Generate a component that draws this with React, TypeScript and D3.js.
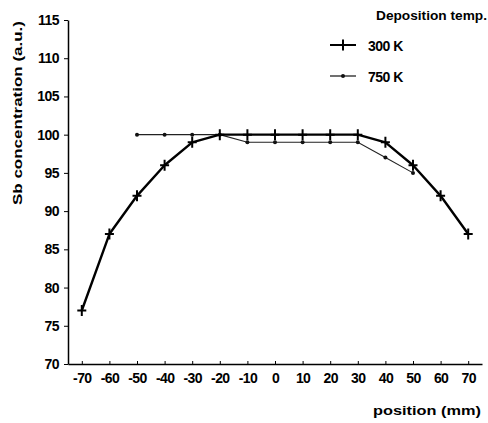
import React, { useEffect, useRef } from "react";
import * as d3 from "d3";

const positions300 = [-70, -60, -50, -40, -30, -20, -10, 0, 10, 20, 30, 40, 50, 60, 70];
const values300 = [77, 87, 92, 96, 99, 100, 100, 100, 100, 100, 100, 99, 96, 92, 87];
const positions750 = [-50, -40, -30, -20, -10, 0, 10, 20, 30, 40, 50];
const values750 = [100, 100, 100, 100, 99, 99, 99, 99, 99, 97, 95];
const xTicks = [-70, -60, -50, -40, -30, -20, -10, 0, 10, 20, 30, 40, 50, 60, 70];
const yTicks = [70, 75, 80, 85, 90, 95, 100, 105, 110, 115];

const FONT = "'Liberation Sans', Arial, sans-serif";

const App = () => {
  const ref = useRef<SVGSVGElement>(null);

  useEffect(() => {
    const width = 488;
    const height = 423;
    const svg = d3.select(ref.current);
    svg.attr("viewBox", [0, 0, width, height]);
    svg.selectAll("*").remove();

    const x = d3.scaleLinear().domain([-75, 75]).range([68, 482]);
    const y = d3.scaleLinear().domain([70, 115]).range([364, 20]);

    // axes
    const yAxis = svg
      .append("g")
      .attr("transform", "translate(68,0)")
      .call(
        d3
          .axisLeft(y)
          .tickValues(yTicks)
          .tickFormat((d) => String(d))
          .tickSize(4)
          .tickPadding(5)
          .tickSizeOuter(0)
      );
    yAxis.select(".domain").attr("stroke-width", 1.5);
    yAxis
      .selectAll("text")
      .attr("font-family", FONT)
      .attr("font-weight", "bold")
      .attr("font-size", 14)
      .attr("letter-spacing", -0.5);

    const xAxis = svg
      .append("g")
      .attr("transform", "translate(0,364)")
      .call(
        d3
          .axisBottom(x)
          .tickValues(xTicks)
          .tickFormat((d) => String(d))
          .tickSize(-3)
          .tickPadding(9)
          .tickSizeOuter(0)
      );
    xAxis.select(".domain").attr("stroke-width", 1.5);
    xAxis
      .selectAll("text")
      .attr("font-family", FONT)
      .attr("font-weight", "bold")
      .attr("font-size", 14)
      .attr("letter-spacing", -0.6);

    // axis titles
    svg
      .append("text")
      .attr("transform", "translate(22,113) rotate(-90)")
      .attr("text-anchor", "middle")
      .attr("font-family", FONT)
      .attr("font-weight", "bold")
      .attr("font-size", 13)
      .attr("textLength", 184)
      .attr("lengthAdjust", "spacingAndGlyphs")
      .text("Sb concentration (a.u.)");

    svg
      .append("text")
      .attr("x", 373)
      .attr("y", 415)
      .attr("font-family", FONT)
      .attr("font-weight", "bold")
      .attr("font-size", 13)
      .attr("textLength", 108)
      .attr("lengthAdjust", "spacingAndGlyphs")
      .text("position (mm)");

    const line = d3.line();

    // 750 K series
    const pts750 = positions750.map((p, i) => [x(p), y(values750[i])] as [number, number]);
    svg
      .append("path")
      .attr("d", line(pts750))
      .attr("fill", "none")
      .attr("stroke", "#222")
      .attr("stroke-width", 1.1);
    svg
      .append("g")
      .selectAll("circle")
      .data(pts750)
      .join("circle")
      .attr("cx", (d) => d[0])
      .attr("cy", (d) => d[1])
      .attr("r", 2)
      .attr("fill", "#111");

    // 300 K series
    const pts300 = positions300.map((p, i) => [x(p), y(values300[i])] as [number, number]);
    svg
      .append("path")
      .attr("d", line(pts300))
      .attr("fill", "none")
      .attr("stroke", "#000")
      .attr("stroke-width", 2.4)
      .attr("stroke-linejoin", "round");
    const plus = (g: any) =>
      g
        .append("path")
        .attr("d", "M-4.5,0H4.5M0,-5.5V5.5")
        .attr("stroke", "#000")
        .attr("stroke-width", 2);
    svg
      .append("g")
      .selectAll("g")
      .data(pts300)
      .join("g")
      .attr("transform", (d) => `translate(${d[0]},${d[1]})`)
      .call(plus);

    // legend
    const legend = svg.append("g").attr("font-family", FONT).attr("font-weight", "bold");
    legend
      .append("text")
      .attr("x", 376)
      .attr("y", 20)
      .attr("font-size", 13)
      .attr("textLength", 111)
      .attr("lengthAdjust", "spacingAndGlyphs")
      .text("Deposition temp.");
    legend
      .append("line")
      .attr("x1", 330)
      .attr("x2", 356)
      .attr("y1", 45)
      .attr("y2", 45)
      .attr("stroke", "#000")
      .attr("stroke-width", 2);
    legend
      .append("g")
      .attr("transform", "translate(343,45)")
      .call(plus);
    legend
      .append("text")
      .attr("x", 368)
      .attr("y", 51)
      .attr("font-size", 14)
      .attr("letter-spacing", -0.5)
      .text("300 K");
    legend
      .append("line")
      .attr("x1", 330)
      .attr("x2", 356)
      .attr("y1", 76)
      .attr("y2", 76)
      .attr("stroke", "#222")
      .attr("stroke-width", 1.3);
    legend.append("circle").attr("cx", 343).attr("cy", 76).attr("r", 2).attr("fill", "#111");
    legend
      .append("text")
      .attr("x", 368)
      .attr("y", 82)
      .attr("font-size", 14)
      .attr("letter-spacing", -0.5)
      .text("750 K");
  }, []);

  return (
    <svg
      ref={ref}
      width={488}
      height={423}
      style={{ position: "absolute", left: 0, top: 0, background: "#fff" }}
    ></svg>
  );
};

export default App;
